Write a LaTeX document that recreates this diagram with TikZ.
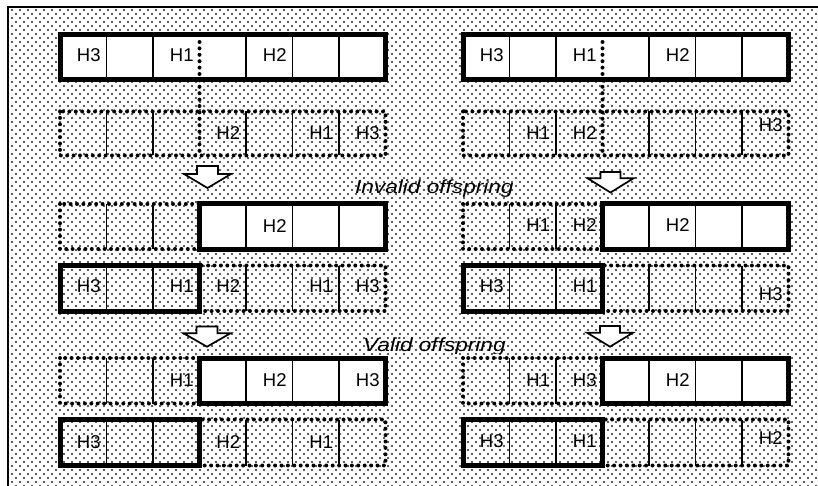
\documentclass[tikz,border=0pt]{standalone}
\usepackage{fontspec}
\setmainfont{Liberation Sans}
\usetikzlibrary{patterns}
\pgfdeclarepatternformonly{halftone}{\pgfqpoint{-1.5pt}{-1.5pt}}{\pgfqpoint{5.5pt}{5.5pt}}{\pgfqpoint{8pt}{8pt}}{%
  \pgfpathcircle{\pgfqpoint{0pt}{0pt}}{1.05pt}%
  \pgfpathcircle{\pgfqpoint{4pt}{4pt}}{1.05pt}%
  \pgfusepath{fill}}
\tikzset{
  thickbox/.style={draw=black, line width=5pt, line join=miter},
  dotbox/.style={draw=black, line width=4pt, line cap=round, dash pattern=on 0pt off 6.4pt},
  divider/.style={draw=black, line width=1.4pt},
  lbl/.style={inner sep=0pt, font=\fontsize{18.5}{20}\selectfont},
  note/.style={inner sep=0pt, anchor=base west, font=\fontsize{19}{21}\selectfont\itshape},
  blockarrow/.style={draw=black, fill=white, line width=1.7pt, line join=miter},
  frameline/.style={draw=black, line width=2pt}
}
\begin{document}
\begin{tikzpicture}[x=1pt, y=-1pt]
\useasboundingbox (0,0) rectangle (818,486);
\fill[white] (0,0) rectangle (818,486);
\fill[pattern=halftone, pattern color=black!85] (8,7) rectangle (818,486);
\draw[frameline] (8,486) -- (8,7) -- (818,7);

\foreach \xa in {60,463} {
  % row 1: parent (thick, white)
  \draw[thickbox, fill=white] (\xa,34.5) rectangle ({\xa+325.5},79.5);
  \foreach \i in {1,2,4,5,6} \draw[divider] ({\xa+46.5*\i},34.5) -- ({\xa+46.5*\i},79.5);
  % row 2: parent (dotted)
  \draw[dotbox] (\xa,111.5) rectangle ({\xa+325.5},155.5);
  \foreach \i in {1,2,4,5,6} \draw[divider] ({\xa+46.5*\i},111.5) -- ({\xa+46.5*\i},155.5);
  % crossover point
  \draw[dotbox] ({\xa+139.5},42) -- ({\xa+139.5},155.5);
  % rows 3 and 5: dotted left part, thick white right part
  \foreach \ya/\yb in {204/249, 358/403.5} {
    \draw[dotbox] (\xa,\ya) rectangle ({\xa+139.5},\yb);
    \foreach \i in {1,2} \draw[divider] ({\xa+46.5*\i},\ya) -- ({\xa+46.5*\i},\yb);
    \draw[thickbox, fill=white] ({\xa+139.5},\ya) rectangle ({\xa+325.5},\yb);
    \foreach \i in {4,5,6} \draw[divider] ({\xa+46.5*\i},\ya) -- ({\xa+46.5*\i},\yb);
  }
  % rows 4 and 6: thick left part, dotted right part
  \foreach \ya/\yb in {265.5/311, 419.5/465.5} {
    \draw[dotbox] ({\xa+139.5},\ya) rectangle ({\xa+325.5},\yb);
    \foreach \i in {1,2,4,5,6} \draw[divider] ({\xa+46.5*\i},\ya) -- ({\xa+46.5*\i},\yb);
    \draw[thickbox] (\xa,\ya) rectangle ({\xa+139.5},\yb);
  }
}

% block arrows
\draw[blockarrow] (197,166) -- (218,166) -- (218,174) -- (231,174) -- (207.5,188) -- (184,174) -- (197,174) -- cycle;
\draw[blockarrow] (600.5,172) -- (620.5,172) -- (620.5,178.3) -- (633.5,178.3) -- (610.5,192.5) -- (587.5,178.3) -- (600.5,178.3) -- cycle;
\draw[blockarrow] (196.5,326.5) -- (217.5,326.5) -- (217.5,333.3) -- (230.5,333.3) -- (207,346.7) -- (183.5,333.3) -- (196.5,333.3) -- cycle;
\draw[blockarrow] (600,326) -- (620,326) -- (620,332.7) -- (633,332.7) -- (610,346.7) -- (587,332.7) -- (600,332.7) -- cycle;

% captions
\node[note] (invalid) at (355,194) {\scalebox{1.19}[1]{Invalid offspring}};
\begin{scope}
  \clip (0,0) rectangle (818,353);
  \node[note] (valid) at (363,351.5) {\scalebox{1.19}[1]{Valid offspring}};
\end{scope}

% labels, row 1
\node[lbl] (a1) at (88.75,55) {H3};
\node[lbl] (a2) at (181.75,55) {H1};
\node[lbl] (a3) at (274.75,55) {H2};
\node[lbl] (b1) at (491.75,55) {H3};
\node[lbl] (b2) at (584.75,55) {H1};
\node[lbl] (b3) at (677.75,55) {H2};
% row 2
\node[lbl] (c1) at (228.25,133) {H2};
\node[lbl] (c2) at (321.25,133) {H1};
\node[lbl] (c3) at (367.75,133) {H3};
\node[lbl] (d1) at (538.25,133) {H1};
\node[lbl] (d2) at (584.75,133) {H2};
\node[lbl] (d3) at (770.75,125) {H3};
% row 3
\node[lbl] (e1) at (274.75,226) {H2};
\node[lbl] (f1) at (538.25,225) {H1};
\node[lbl] (f2) at (584.75,225) {H2};
\node[lbl] (f3) at (677.75,225) {H2};
% row 4
\node[lbl] (g1) at (88.75,286.5) {H3};
\node[lbl] (g2) at (181.75,286.5) {H1};
\node[lbl] (g3) at (228.25,286.5) {H2};
\node[lbl] (g4) at (321.25,286.5) {H1};
\node[lbl] (g5) at (367.75,286.5) {H3};
\node[lbl] (h1) at (491.75,286.5) {H3};
\node[lbl] (h2) at (584.75,286.5) {H1};
\node[lbl] (h3) at (770.75,294) {H3};
% row 5
\node[lbl] (i1) at (181.75,380) {H1};
\node[lbl] (i2) at (274.75,380) {H2};
\node[lbl] (i3) at (367.75,380) {H3};
\node[lbl] (j1) at (538.25,380) {H1};
\node[lbl] (j2) at (584.75,380) {H3};
\node[lbl] (j3) at (677.75,380) {H2};
% row 6
\node[lbl] (k1) at (88.75,442) {H3};
\node[lbl] (k2) at (228.25,442) {H2};
\node[lbl] (k3) at (321.25,442) {H1};
\node[lbl] (m1) at (491.75,441) {H3};
\node[lbl] (m2) at (584.75,441) {H1};
\node[lbl] (m3) at (770.75,438) {H2};
\end{tikzpicture}
\end{document}
